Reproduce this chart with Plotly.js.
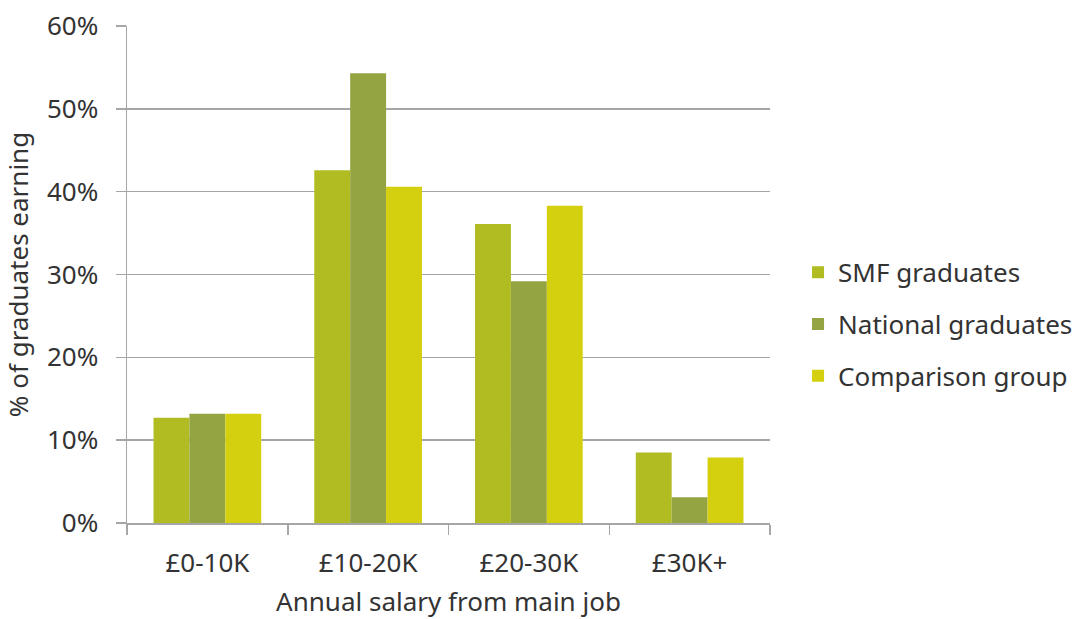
<!DOCTYPE html>
<html>
<head>
<meta charset="utf-8">
<script src="https://cdn.plot.ly/plotly-3.0.1.min.js"></script>
<style>html,body{margin:0;padding:0;background:#fff;}#chart{width:1078px;height:619px;}</style>
</head>
<body>
<div id="chart"></div>
<script>
const categories = ["£0-10K", "£10-20K", "£20-30K", "£30K+"];
const smfGraduates = [12.7, 42.6, 36.1, 8.5];
const nationalGraduates = [13.2, 54.3, 29.2, 3.1];
const comparisonGroup = [13.2, 40.6, 38.3, 7.9];
const seriesNames = ["SMF graduates", "National graduates", "Comparison group"];
const yTicks = [0, 10, 20, 30, 40, 50, 60];
const yTickLabels = ["0%", "10%", "20%", "30%", "40%", "50%", "60%"];

const colors = ["#B0BC22", "#95A442", "#D4D00F"];
const values = [smfGraduates, nationalGraduates, comparisonGroup];
const traces = values.map((v, i) => ({
  type: "bar",
  x: categories,
  y: v,
  name: seriesNames[i],
  legendgroup: "g" + i,
  marker: {color: colors[i], line: {width: 0}},
  hoverinfo: "none"
}));

const fam = "'Noto Sans', 'Open Sans', sans-serif";
const txt = "#333333";
const layout = {
  width: 1078, height: 619,
  margin: {l: 127, r: 308, t: 26, b: 96},
  paper_bgcolor: "#fff", plot_bgcolor: "#fff",
  font: {family: fam, color: txt, size: 26},
  barmode: "group",
  bargap: 0.33,
  bargroupgap: 0,
  showlegend: true,
  legend: {
    xref: "container", yref: "container",
    x: 0.7403, xanchor: "left", y: 0.476, yanchor: "middle",
    font: {family: fam, size: 26, color: txt},
    tracegroupgap: 15,
    itemsizing: "constant"
  },
  xaxis: {
    type: "category",
    showline: true, linecolor: "#A6A6A6", linewidth: 1.5,
    ticks: "outside", tickson: "boundaries", ticklen: 10, tickcolor: "#A6A6A6", tickwidth: 1.5,
    showgrid: false, zeroline: false,
    ticklabelstandoff: 16,
    tickfont: {family: fam, size: 26, color: txt},
    title: {text: "Annual salary from main job", font: {family: fam, size: 26, color: txt}, standoff: 23}
  },
  yaxis: {
    range: [0, 60],
    tickvals: yTicks, ticktext: yTickLabels,
    showline: true, linecolor: "#A6A6A6", linewidth: 1.5,
    ticks: "outside", ticklen: 10, tickcolor: "#A6A6A6", tickwidth: 1.5,
    showgrid: true, gridcolor: "#A6A6A6", gridwidth: 1.5,
    zeroline: false,
    ticklabelstandoff: 12,
    tickfont: {family: fam, size: 26, color: txt},
    title: {text: "% of graduates earning", font: {family: fam, size: 26, color: txt}, standoff: 18}
  }
};

Plotly.newPlot("chart", traces, layout, {displayModeBar: false, staticPlot: true});
</script>
</body>
</html>
